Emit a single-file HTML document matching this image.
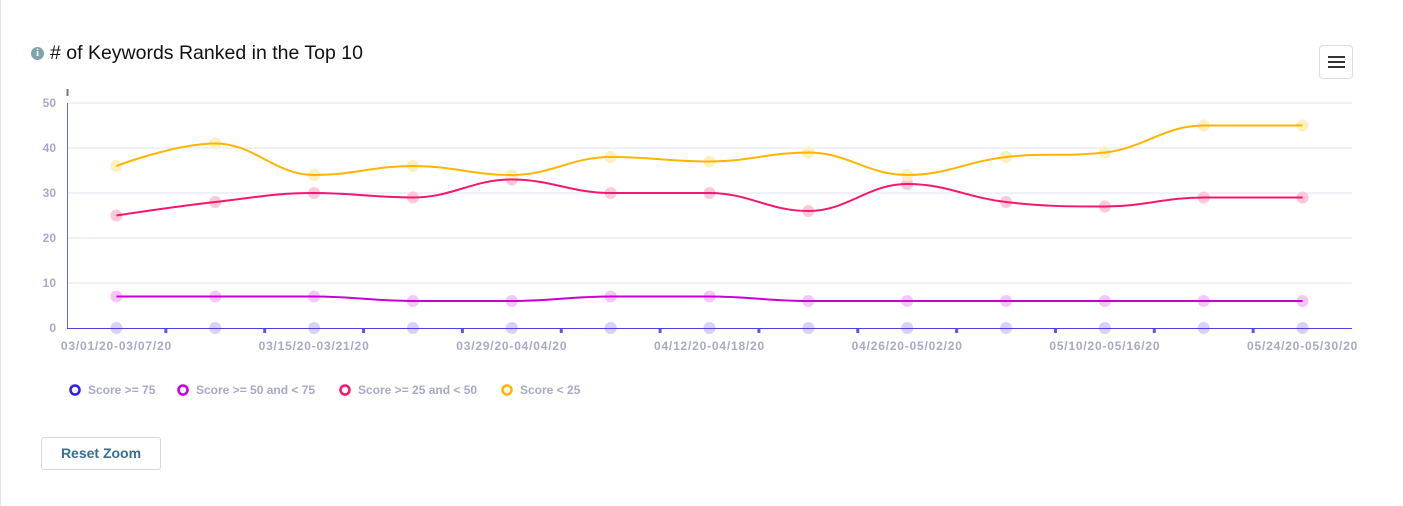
<!DOCTYPE html>
<html><head><meta charset="utf-8">
<style>
body{margin:0;width:1403px;height:506px;background:#fff;overflow:hidden;font-family:"Liberation Sans",sans-serif;position:relative}
#lb{position:absolute;left:0;top:0;width:1px;height:506px;background:#e3e4ee}
#title{position:absolute;left:31px;top:42px;font-size:19.5px;color:#111;display:flex;align-items:center}
#info{width:13px;height:13px;border-radius:50%;background:#7fa3ab;color:#fff;font-size:10px;font-weight:bold;text-align:center;line-height:13px;margin-right:6px;font-family:"Liberation Serif",serif}
#menu{position:absolute;left:1319px;top:45px;width:34px;height:34px;border:1px solid #ddd;border-radius:4px;box-sizing:border-box}
#menu span{position:absolute;left:8px;width:17px;height:2px;background:#333}
#reset{position:absolute;left:41px;top:437px;width:120px;height:33px;border:1px solid #d8d8d8;border-radius:3px;box-sizing:border-box;font-size:14px;font-weight:bold;color:#3a6e8f;text-align:center;line-height:31px}
svg{position:absolute;left:0;top:0}
</style></head><body>
<div id="lb"></div>
<div id="title"><div id="info">i</div># of Keywords Ranked in the Top 10</div>
<div id="menu"><span style="top:10px"></span><span style="top:15px"></span><span style="top:20px"></span></div>
<div id="reset">Reset Zoom</div>
<svg id="chart" width="1403" height="506"></svg>
<script>
const categories=["03/01/20-03/07/20","03/08/20-03/14/20","03/15/20-03/21/20","03/22/20-03/28/20","03/29/20-04/04/20","04/05/20-04/11/20","04/12/20-04/18/20","04/19/20-04/25/20","04/26/20-05/02/20","05/03/20-05/09/20","05/10/20-05/16/20","05/17/20-05/23/20","05/24/20-05/30/20"];
const seriesNames=["Score >= 75","Score >= 50 and < 75","Score >= 25 and < 50","Score < 25"];
const s75=[0,0,0,0,0,0,0,0,0,0,0,0,0];
const s50=[7,7,7,6,6,7,7,6,6,6,6,6,6];
const s25=[25,28,30,29,33,30,30,26,32,28,27,29,29];
const s0=[36,41,34,36,34,38,37,39,34,38,39,45,45];
const yTicks=[0,10,20,30,40,50];
const colors=["#2f1cf0","#c800d8","#f7166e","#ffb400"];
const fills=["#d6d2fc","#f3c8f8","#fdc8dc","#fff0c0"];
const svg=document.getElementById('chart');
const NS="http://www.w3.org/2000/svg";
const X0=67,X1=1352,Y0=328,Y1=103;
const step=(X1-X0)/categories.length;
const x=i=>X0+step*(i+0.5);
const y=v=>Y0-(v-0)/(50-0)*(Y0-Y1);
function mk(t,a,p){const e=document.createElementNS(NS,t);for(const k in a)e.setAttribute(k,a[k]);(p||svg).appendChild(e);return e;}
yTicks.forEach(v=>{
 if(v>0){const g=mk('line',{x1:X0,x2:X1,y1:y(v),y2:y(v),stroke:'#e2e3ee','stroke-width':1});
 
 }
 const t=mk('text',{x:56,y:y(v)+4,'text-anchor':'end','font-size':12,'font-weight':'bold',fill:'#a6aac6'});t.textContent=v;
 
 
});
const tk=mk('line',{x1:X0+0.5,x2:X0+0.5,y1:89,y2:96,stroke:'#777','stroke-width':2});


[s75,s50,s25,s0].forEach((vals,k)=>{
 vals.forEach((v,i)=>{const c=mk('circle',{cx:x(i),cy:y(v),r:6,fill:fills[k]});
  
  });
});
const ya=mk('line',{x1:X0+0.5,x2:X0+0.5,y1:Y1,y2:Y0,stroke:'#6a6fb0','stroke-width':1});


for(let i=1;i<categories.length;i++){
 const l=mk('line',{x1:X0+step*i,x2:X0+step*i,y1:Y0,y2:Y0+5,stroke:'#5a5fc0','stroke-width':3});
 
 
}
categories.forEach((c,i)=>{if(i%2)return;
 const t=mk('text',{x:x(i),y:350,'text-anchor':'middle','font-size':12,'letter-spacing':0.8,'font-weight':'bold',fill:'#a6aac6'});t.textContent=c;
 
 
});
function spline(vals){
 const pts=vals.map((v,i)=>[x(i),y(v)]);let d='M'+pts[0][0]+' '+pts[0][1];
 const cont=pts.map((p,i)=>{
  if(i===0||i===pts.length-1)return null;
  const pv=pts[i-1],nx=pts[i+1],s=1.5,den=s+1;
  let lx=(s*p[0]+pv[0])/den,ly=(s*p[1]+pv[1])/den,rx=(s*p[0]+nx[0])/den,ry=(s*p[1]+nx[1])/den;
  const corr=((ry-ly)*(rx-p[0]))/(rx-lx)+p[1]-ry;ly+=corr;ry+=corr;
  if(ly>pv[1]&&ly>p[1]){ly=Math.max(pv[1],p[1]);ry=2*p[1]-ly;}else if(ly<pv[1]&&ly<p[1]){ly=Math.min(pv[1],p[1]);ry=2*p[1]-ly;}
  if(ry>nx[1]&&ry>p[1]){ry=Math.max(nx[1],p[1]);ly=2*p[1]-ry;}else if(ry<nx[1]&&ry<p[1]){ry=Math.min(nx[1],p[1]);ly=2*p[1]-ry;}
  return [lx,ly,rx,ry];});
 for(let i=1;i<pts.length;i++){
  const a=cont[i-1]?[cont[i-1][2],cont[i-1][3]]:pts[i-1];
  const b=cont[i]?[cont[i][0],cont[i][1]]:pts[i];
  d+=` C${a[0]} ${a[1]} ${b[0]} ${b[1]} ${pts[i][0]} ${pts[i][1]}`;}
 return d;}
[s75,s50,s25,s0].forEach((vals,k)=>{
 if(k===0)return;
 const p=mk('path',{d:spline(vals),fill:'none',stroke:colors[k],'stroke-width':2});
 
 
});
const xa=mk('line',{x1:X0,x2:X1,y1:Y0+0.5,y2:Y0+0.5,stroke:'#4b3fe0','stroke-width':1});


let lx=70;const lw=[108,162,162,90];
seriesNames.forEach((n,k)=>{
 const g=mk('g',{});
 
 
 mk('circle',{cx:lx+5,cy:390,r:4.5,fill:'#fff',stroke:colors[k],'stroke-width':2.5},g);
 const t=mk('text',{x:lx+18,y:394,'font-size':12,'font-weight':'bold',fill:'#a6aac6'},g);t.textContent=n;
 lx+=lw[k];
});
</script>
</body></html>
